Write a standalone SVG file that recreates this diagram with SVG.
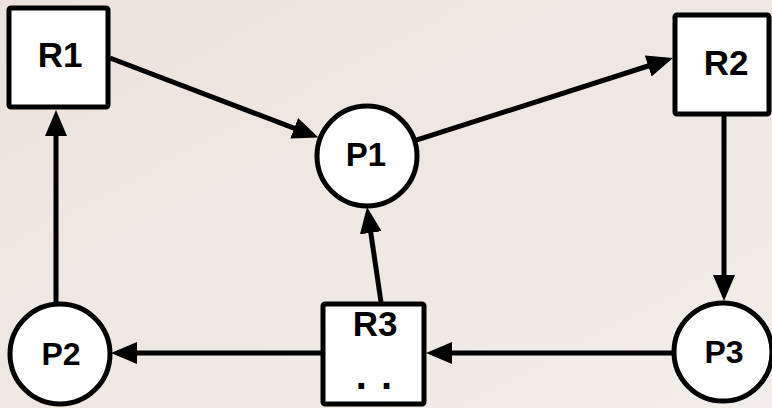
<svg xmlns="http://www.w3.org/2000/svg" width="772" height="408" viewBox="0 0 772 408">
  <defs>
    <linearGradient id="bg" x1="0" y1="0" x2="1" y2="1">
      <stop offset="0" stop-color="#eee3dc"/>
      <stop offset="0.5" stop-color="#efe8e2"/>
      <stop offset="1" stop-color="#f1eee9"/>
    </linearGradient>
    <marker id="arr" viewBox="0 0 26 22" markerWidth="26" markerHeight="22" refX="13" refY="11" orient="auto" markerUnits="userSpaceOnUse">
      <path d="M0,0 L26,11 L0,22 z" fill="#000"/>
    </marker>
  </defs>
  <style>
    .box { fill: #fff; stroke: #000; stroke-width: 5; }
    .circ { fill: #fff; stroke: #000; stroke-width: 5; }
    .lbl { font-family: "Liberation Sans", Arial, sans-serif; font-weight: bold; font-size: 35px; fill: #000; text-anchor: middle; }
    .edge { stroke: #000; stroke-width: 5; fill: none; marker-end: url(#arr); }
  </style>
  <rect x="0" y="0" width="772" height="408" fill="url(#bg)"/>

  <g id="connectors">
    <line class="edge" x1="110" y1="58" x2="306.3" y2="132.9"/>
    <line class="edge" x1="414.7" y1="140.7" x2="660.6" y2="62"/>
    <line class="edge" x1="724" y1="116" x2="724" y2="288"/>
    <line class="edge" x1="673" y1="353" x2="439" y2="353"/>
    <line class="edge" x1="321" y1="353" x2="124" y2="353"/>
    <line class="edge" x1="56" y1="303" x2="56" y2="123"/>
    <line class="edge" x1="381" y1="302" x2="368.9" y2="219.9"/>
  </g>

  <g id="R1">
    <rect class="box" x="9" y="8" width="99" height="99" rx="2"/>
    <text class="lbl" x="60" y="67">R1</text>
  </g>
  <g id="R2">
    <rect class="box" x="675" y="15" width="94" height="99" rx="2"/>
    <text class="lbl" x="726" y="75">R2</text>
  </g>
  <g id="R3">
    <rect class="box" x="323" y="304" width="101" height="100" rx="2"/>
    <text class="lbl" x="375" y="336">R3</text>
    <text class="lbl" x="374" y="389" style="font-size:40px; word-spacing:3px">. .</text>
  </g>
  <g id="P1">
    <circle class="circ" cx="367" cy="156" r="50"/>
    <text class="lbl" x="366" y="166" style="font-size:33px">P1</text>
  </g>
  <g id="P2">
    <circle class="circ" cx="60" cy="354" r="50"/>
    <text class="lbl" x="61" y="365" style="font-size:32px">P2</text>
  </g>
  <g id="P3">
    <circle class="circ" cx="723" cy="352" r="49"/>
    <text class="lbl" x="724" y="363" style="font-size:32px">P3</text>
  </g>
</svg>
